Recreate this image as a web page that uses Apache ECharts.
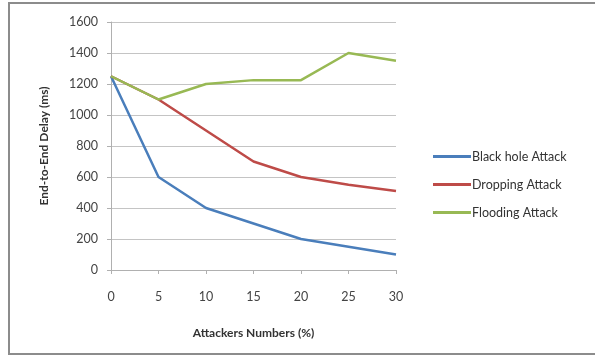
<!DOCTYPE html>
<html>
<head>
<meta charset="utf-8">
<script src="https://cdn.jsdelivr.net/npm/echarts@6/dist/echarts.min.js"></script>
<style>
  html, body { margin: 0; padding: 0; background: #fff; }
  #chart { width: 595px; height: 357px; }
</style>
</head>
<body>
<div id="chart"></div>
<script>
// Attackers percentage on the x axis
const attackers = [0, 5, 10, 15, 20, 25, 30];
// End-to-end delay (ms) per attack type
const blackHole = [1250, 600, 400, 300, 200, 150, 100];
const dropping = [1250, 1100, 900, 700, 600, 550, 510];
const flooding = [1250, 1100, 1200, 1225, 1225, 1400, 1350];
const seriesNames = ['Black hole Attack', 'Dropping Attack', 'Flooding Attack'];
const seriesColors = ['#4a7ebb', '#be4b48', '#98b954'];

const pairs = (vals) => attackers.map((x, i) => [x, vals[i]]);
const FONT = 'Lato';

const chart = echarts.init(document.getElementById('chart'), null, { renderer: 'canvas' });
chart.setOption({
  animation: false,
  backgroundColor: '#fff',
  textStyle: { fontFamily: FONT },
  graphic: [{
    type: 'rect',
    shape: { x: 9, y: 3, width: 600, height: 351 },
    style: { fill: 'none', stroke: '#8c8c8c', lineWidth: 2 },
    z: -1
  }],
  grid: { left: 111, top: 22, width: 285, height: 248 },
  legend: {
    orient: 'vertical',
    left: 428,
    top: 145,
    itemGap: 15,
    itemWidth: 38,
    itemHeight: 3,
    icon: 'rect',
    data: seriesNames,
    textStyle: { fontFamily: FONT, fontSize: 12.5, color: '#333', padding: [0, 0, 0, -4] }
  },
  xAxis: {
    type: 'value',
    min: 0, max: 30, interval: 5,
    name: 'Attackers Numbers (%)',
    nameLocation: 'middle',
    nameGap: 57,
    nameTextStyle: { fontFamily: FONT, fontSize: 12, fontWeight: 'bold', color: '#333' },
    axisLine: { show: true, lineStyle: { color: '#b0b0b0', width: 1 } },
    axisTick: { show: true, length: 4, lineStyle: { color: '#b0b0b0' } },
    axisLabel: { fontFamily: FONT, fontSize: 12.5, color: '#444', margin: 20 },
    splitLine: { show: false }
  },
  yAxis: {
    type: 'value',
    min: 0, max: 1600, interval: 200,
    name: 'End-to-End Delay (ms)',
    nameLocation: 'middle',
    nameGap: 61,
    nameTextStyle: { fontFamily: FONT, fontSize: 12, fontWeight: 'bold', color: '#333' },
    axisLine: { show: true, lineStyle: { color: '#b0b0b0', width: 1 } },
    axisTick: { show: true, length: 4, lineStyle: { color: '#b0b0b0' } },
    axisLabel: { fontFamily: FONT, fontSize: 12.5, color: '#444', margin: 13, formatter: (v) => String(v) },
    splitLine: { show: true, lineStyle: { color: '#c4c4c4', width: 1 } }
  },
  series: [blackHole, dropping, flooding].map((vals, i) => ({
    name: seriesNames[i],
    type: 'line',
    data: pairs(vals),
    symbol: 'none',
    color: seriesColors[i],
    lineStyle: { width: 2.5, color: seriesColors[i] }
  }))
});
</script>
</body>
</html>
